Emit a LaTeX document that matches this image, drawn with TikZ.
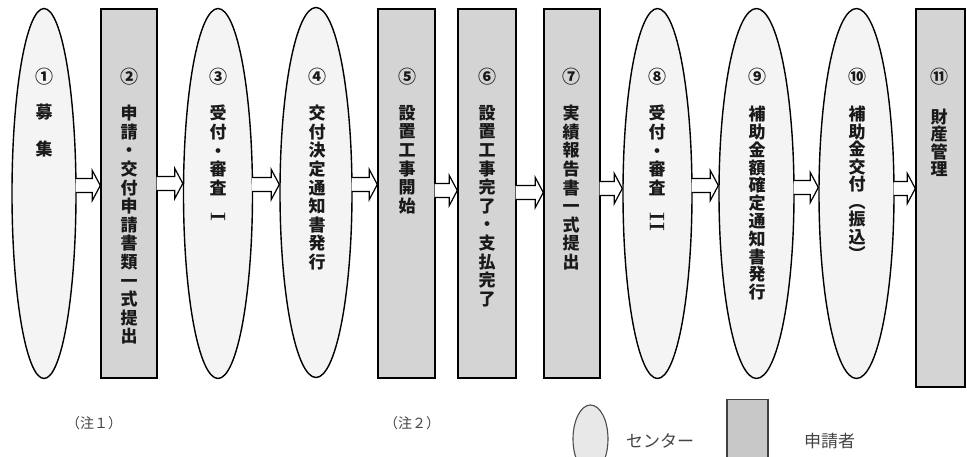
\documentclass[tikz,border=0pt]{standalone}
\usepackage{fontspec}
\usepackage{graphicx}
\newfontfamily\cjk{Noto Sans CJK JP}
\usetikzlibrary{shapes.geometric,calc}
\definecolor{ellfill}{HTML}{F4F4F4}
\definecolor{boxfill}{HTML}{D4D4D4}
\definecolor{legell}{HTML}{E8E8E8}
\definecolor{legbox}{HTML}{C8C8C8}
\definecolor{notecol}{HTML}{444444}
\definecolor{txtcol}{HTML}{1A1A1A}
\tikzset{
  ell/.style={ellipse, draw, line width=1.4pt, fill=ellfill, minimum width=#1, minimum height=370pt, inner sep=0pt},
  box/.style={rectangle, draw, line width=1.4pt, fill=boxfill, minimum width=#1, minimum height=369pt, inner sep=0pt},
  num/.style={font=\cjk\bfseries\fontsize{18}{18}\selectfont, text=txtcol, inner sep=0pt},
  vtext/.style={font=\cjk\bfseries\fontsize{17}{18.6}\selectfont, text=txtcol, align=center, anchor=north, inner sep=0pt},
  note/.style={font=\cjk\fontsize{14}{14}\selectfont, text=notecol, inner sep=0pt},
  legtext/.style={font=\cjk\fontsize{17}{17}\selectfont, text=notecol, inner sep=0pt},
  blk/.style={line width=1.2pt, fill=white, line join=miter,
    to path={let \p1=(\tikztostart.east), \p2=(\tikztotarget.west) in
      (\x1-1pt,\y1+#1+7pt) -- (\x2-8pt,\y1+#1+7pt) -- (\x2-8pt,\y1+#1+15pt) -- (\x2,\y1+#1) --
      (\x2-8pt,\y1+#1-15pt) -- (\x2-8pt,\y1+#1-7pt) -- (\x1-1pt,\y1+#1-7pt)}},
  blk/.default=7pt
}
\newcommand{\rotI}[1]{\rotatebox{-90}{\rmfamily\bfseries\fontsize{21}{21}\selectfont #1}}
\begin{document}
\begin{tikzpicture}[x=1pt,y=1pt]
\useasboundingbox (0,0) rectangle (967,-456);
\clip (0,0) rectangle (967,-456);
\fill[white] (0,0) rectangle (967,-456);

% shapes
\node[ell=64pt]  (s1)  at (44,-193.5) {};
\node[box=56pt]  (s2)  at (129,-193.5) {};
\node[ell=69pt]  (s3)  at (218,-193.5) {};
\node[ell=72pt]  (s4)  at (316,-192.5) {};
\node[box=57pt]  (s5)  at (406.5,-193.5) {};
\node[box=58pt]  (s6)  at (487,-193.5) {};
\node[box=56pt]  (s7)  at (572,-193.5) {};
\node[ell=69pt]  (s8)  at (657.5,-193.5) {};
\node[ell=75pt]  (s9)  at (756.5,-193.5) {};
\node[ell=75pt]  (s10) at (856.5,-193.5) {};
\node[box=49pt, minimum height=378pt] (s11) at (940.5,-198) {};

% arrows
\draw[blk=8pt]   (s1) to (s2);
\draw[blk=10pt]  (s2) to (s3);
\draw[blk=9pt]   (s3) to (s4);
\draw[blk=8pt]   (s4) to (s5);
\draw[blk=3pt]   (s5) to (s6);
\draw[blk=1pt]   (s6) to (s7);
\draw[blk=5pt]   (s7) to (s8);
\draw[blk=8pt]   (s8) to (s9);
\draw[blk=6pt]   (s9) to (s10);
\draw[blk=5pt]   (s10) to (s11);

% numbers
\node[num] (n1)  at (44,-77) {①};
\node[num] (n2)  at (129,-77) {②};
\node[num] (n3)  at (218,-77) {③};
\node[num] (n4)  at (317,-77) {④};
\node[num] (n5)  at (407,-77) {⑤};
\node[num] (n6)  at (487,-77) {⑥};
\node[num] (n7)  at (571,-77) {⑦};
\node[num] (n8)  at (657,-77) {⑧};
\node[num] (n9)  at (757,-77) {⑨};
\node[num] (n10) at (857,-77) {⑩};
\node[num] (n11) at (939,-77) {⑪};

% vertical texts
\node[vtext] (t1)  at (44,-104)  {募\\　\\集};
\node[vtext] (t2)  at (129,-105) {申\\請\\・\\交\\付\\申\\請\\書\\類\\一\\式\\提\\出};
\node[vtext] (t3)  at (218,-105) {受\\付\\・\\審\\査\\\rotI{I}};
\node[vtext] (t4)  at (317,-105) {交\\付\\決\\定\\通\\知\\書\\発\\行};
\node[vtext] (t5)  at (407,-105) {設\\置\\工\\事\\開\\始};
\node[vtext] (t6)  at (487,-105) {設\\置\\工\\事\\完\\了\\・\\支\\払\\完\\了};
\node[vtext] (t7)  at (571,-105) {実\\績\\報\\告\\書\\一\\式\\提\\出};
\node[vtext] (t8)  at (657,-105) {受\\付\\・\\審\\査\\\rotI{II}};
\node[vtext, font=\cjk\bfseries\fontsize{17}{17.8}\selectfont] (t9)  at (757,-106) {補\\助\\金\\額\\確\\定\\通\\知\\書\\発\\行};
\node[vtext, font=\cjk\bfseries\fontsize{17}{17.5}\selectfont] (t10) at (857,-106) {補\\助\\金\\交\\付\\︵\\振\\込\\︶};
\node[vtext, font=\cjk\bfseries\fontsize{17}{17.3}\selectfont] (t11) at (939,-109) {財\\産\\管\\理};

% notes
\node[note] (c1) at (94,-423) {（注１）};
\node[note] (c2) at (412,-423) {（注２）};

% legend
\node[ellipse, draw=black!70, line width=1.1pt, fill=legell, minimum width=35pt, minimum height=68pt, inner sep=0pt] (le) at (590.5,-439) {};
\node[legtext] (lt1) at (660,-441) {センター};
\node[rectangle, draw=black!75, line width=1.1pt, fill=legbox, minimum width=41pt, minimum height=80pt, inner sep=0pt, anchor=north] (lb) at (747.5,-399) {};
\node[legtext] (lt2) at (829.5,-441) {申請者};
\end{tikzpicture}
\end{document}
